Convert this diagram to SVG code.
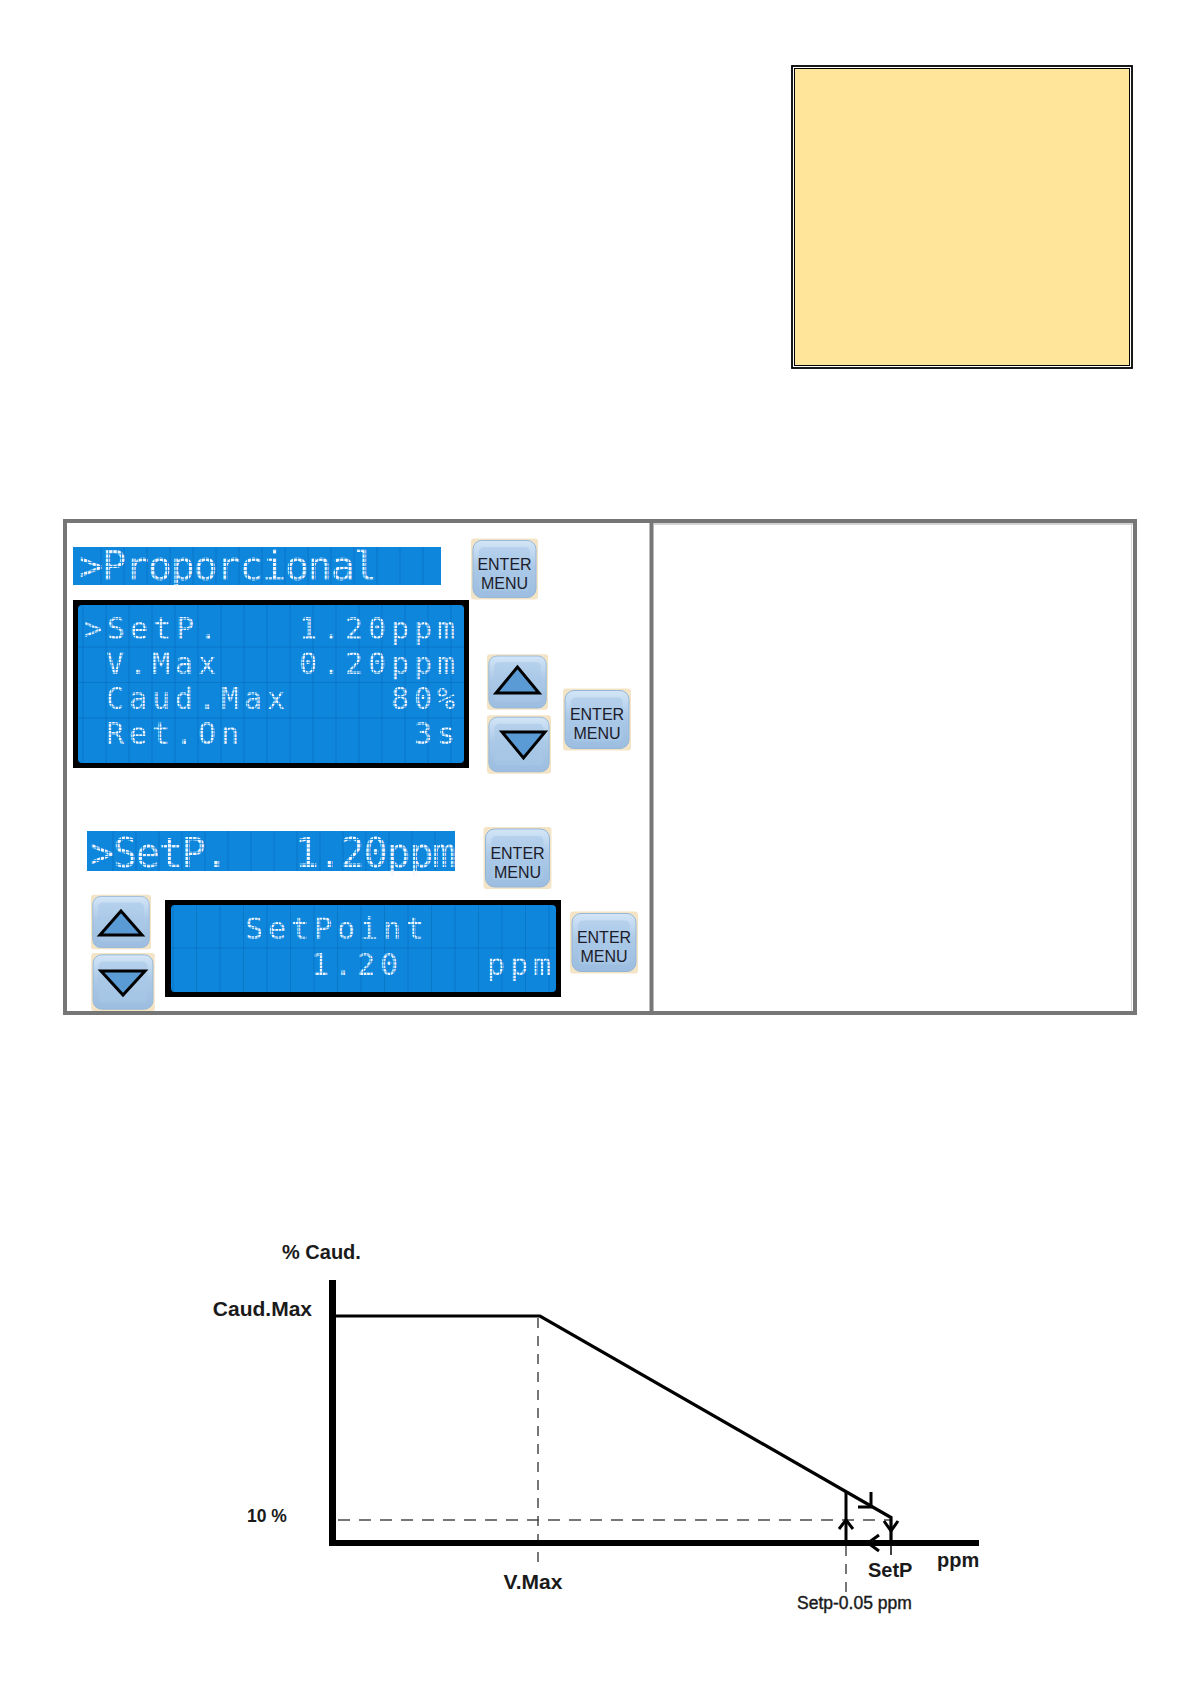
<svg xmlns="http://www.w3.org/2000/svg" xmlns:xlink="http://www.w3.org/1999/xlink" width="1191" height="1684" viewBox="0 0 1191 1684">
<style>
.lcd{fill:url(#dots);font-family:"DejaVu Sans Mono","Liberation Mono",monospace;font-size:40px;letter-spacing:-1.2px}
.lcds{fill:url(#dots2);font-family:"DejaVu Sans Mono","Liberation Mono",monospace;font-size:30px;letter-spacing:4.94px}
.lcdbg{fill:#0d86dc}
.grid{fill:none;stroke:#0a72c2;stroke-width:1;opacity:.75}
.btxt{font-family:"Liberation Sans",Arial,sans-serif;font-size:16px;fill:#1c1c2a;text-anchor:middle}
.tri{fill:#5b9bd5;stroke:#000;stroke-width:3;stroke-linejoin:miter}
.lbl{font-family:"Liberation Sans",Arial,sans-serif;font-weight:bold;fill:#1a1a1a}
.solid{fill:none;stroke:#000;stroke-linecap:butt}
.dash{fill:none;stroke:#4a4a4a;stroke-width:1.5}
.arr{fill:none;stroke:#000;stroke-width:3;stroke-linejoin:miter}
</style>
<defs>
<pattern id="dots" width="4.2" height="4.2" patternUnits="userSpaceOnUse">
<rect width="3.3" height="3.3" fill="#f2f7ff"/>
</pattern>
<pattern id="dots2" width="3.4" height="3.4" patternUnits="userSpaceOnUse">
<rect width="2.7" height="2.7" fill="#f2f7ff"/>
</pattern>
<linearGradient id="bg" x1="0" y1="0" x2="0" y2="1">
<stop offset="0" stop-color="#d4e6f7"/>
<stop offset="0.45" stop-color="#acc9e7"/>
<stop offset="1" stop-color="#9cbde0"/>
</linearGradient>
<symbol id="btn" viewBox="0 0 68 62">
<rect x="0" y="0" width="68" height="62" rx="3" fill="#f4e4c6"/>
<rect x="2" y="2" width="64" height="58" rx="9" fill="url(#bg)" stroke="#93b6d8" stroke-width="1"/>
<rect x="8" y="9" width="52" height="44" rx="5" fill="#a9c8e7" opacity=".6"/>
</symbol>
</defs>
<rect width="1191" height="1684" fill="#fff"/>

<g id="note-box">
<rect x="792" y="66" width="340" height="302" fill="none" stroke="#000" stroke-width="1.8"/>
<rect x="794.5" y="68.5" width="335" height="297" fill="#ffe599" stroke="#000" stroke-width="1"/>
</g>

<g id="table">
<rect x="65" y="521" width="1070" height="492" fill="none" stroke="#767676" stroke-width="4"/>
<line x1="651.5" y1="521" x2="651.5" y2="1013" stroke="#767676" stroke-width="4"/>
<line x1="654" y1="524" x2="1133" y2="524" stroke="#c4c4c4" stroke-width="1.5"/>
<line x1="1131.5" y1="524" x2="1131.5" y2="1011" stroke="#d6d6d6" stroke-width="1"/>
</g>

<g id="banner-proporcional">
<rect class="lcdbg" x="73" y="547" width="368" height="38"/>
<path class="grid" d="M101,547v38m23,-38v38m23,-38v38m23,-38v38m23,-38v38m23,-38v38m23,-38v38m23,-38v38m23,-38v38m23,-38v38m23,-38v38m23,-38v38m23,-38v38m23,-38v38m23,-38v38"/>
<text class="lcd" x="79" y="580">&gt;Proporcional</text>
</g>

<g id="btn-enter-1">
<use xlink:href="#btn" href="#btn" x="471" y="538" width="67" height="62"/>
<text class="btxt" x="504.5" y="570">ENTER</text>
<text class="btxt" x="504.5" y="589">MENU</text>
</g>

<g id="lcd-menu">
<rect x="73" y="600" width="396" height="168" fill="#000"/>
<rect class="lcdbg" x="78" y="605" width="386" height="158" rx="4"/>
<path class="grid" d="M83,605v158m23,-158v158m23,-158v158m23,-158v158m23,-158v158m23,-158v158m23,-158v158m23,-158v158m23,-158v158m23,-158v158m23,-158v158m23,-158v158m23,-158v158m23,-158v158m23,-158v158m23,-158v158m23,-158v158M78,647h386M78,682.5h386M78,718h386"/>
<text class="lcds" x="84" y="638.5">&gt;SetP.</text>
<text class="lcds" x="460" y="638.5" text-anchor="end">1.20ppm</text>
<text class="lcds" x="106" y="673.8">V.Max</text>
<text class="lcds" x="460" y="673.8" text-anchor="end">0.20ppm</text>
<text class="lcds" x="106" y="709.1">Caud.Max</text>
<text class="lcds" x="460" y="709.1" text-anchor="end">80%</text>
<text class="lcds" x="106" y="744.4">Ret.On</text>
<text class="lcds" x="460" y="744.4" text-anchor="end">3s</text>
</g>

<g id="btn-up-1">
<use xlink:href="#btn" href="#btn" x="487" y="652" width="61" height="60"/>
<polygon class="tri" points="517.5,667 496,693 539,693"/>
</g>
<g id="btn-down-1">
<use xlink:href="#btn" href="#btn" x="487" y="714" width="64" height="61"/>
<polygon class="tri" points="502,732 545,732 523.5,758"/>
</g>

<g id="btn-enter-2">
<use xlink:href="#btn" href="#btn" x="563" y="688" width="68" height="63"/>
<text class="btxt" x="597" y="720">ENTER</text>
<text class="btxt" x="597" y="739">MENU</text>
</g>

<g id="banner-setp">
<rect class="lcdbg" x="87" y="831" width="368" height="40"/>
<path class="grid" d="M113,831v40m23,-40v40m23,-40v40m23,-40v40m23,-40v40m23,-40v40m23,-40v40m23,-40v40m23,-40v40m23,-40v40m23,-40v40m23,-40v40m23,-40v40m23,-40v40m23,-40v40"/>
<text class="lcd" x="90" y="867">&gt;SetP.</text>
<text class="lcd" x="455" y="867" text-anchor="end">1.20ppm</text>
</g>

<g id="btn-enter-3">
<use xlink:href="#btn" href="#btn" x="483" y="827" width="69" height="62"/>
<text class="btxt" x="517.5" y="859">ENTER</text>
<text class="btxt" x="517.5" y="878">MENU</text>
</g>

<g id="btn-up-2">
<use xlink:href="#btn" href="#btn" x="91" y="893" width="60" height="58"/>
<polygon class="tri" points="121,911 100,935 142,935"/>
</g>
<g id="btn-down-2">
<use xlink:href="#btn" href="#btn" x="91" y="953" width="64" height="58"/>
<polygon class="tri" points="101,971 145,971 123,995"/>
</g>

<g id="lcd-setpoint">
<rect x="165" y="900" width="396" height="97" fill="#000"/>
<rect class="lcdbg" x="171" y="905" width="385" height="87" rx="4"/>
<path class="grid" d="M173,905v87m23.5,-87v87m23.5,-87v87m23.5,-87v87m23.5,-87v87m23.5,-87v87m23.5,-87v87m23.5,-87v87m23.5,-87v87m23.5,-87v87m23.5,-87v87m23.5,-87v87m23.5,-87v87m23.5,-87v87m23.5,-87v87m23.5,-87v87m23.5,-87v87M171,948h385"/>
<text class="lcds" x="245" y="939" letter-spacing="5.4">SetPoint</text>
<text class="lcds" x="311" y="974.5" letter-spacing="5.4">1.20</text>
<text class="lcds" x="556" y="974.5" text-anchor="end" letter-spacing="5.4">ppm</text>
</g>

<g id="btn-enter-4">
<use xlink:href="#btn" href="#btn" x="570" y="911" width="68" height="63"/>
<text class="btxt" x="604" y="943">ENTER</text>
<text class="btxt" x="604" y="962">MENU</text>
</g>

<g id="chart">
<g id="chart-labels">
<text class="lbl" x="282" y="1259" font-size="20">% Caud.</text>
<text class="lbl" x="312" y="1316" font-size="21" text-anchor="end">Caud.Max</text>
<text class="lbl" x="247" y="1522" font-size="17.5">10 %</text>
<text class="lbl" x="533" y="1589" font-size="21" text-anchor="middle">V.Max</text>
<text class="lbl" x="868" y="1577" font-size="20">SetP</text>
<text class="lbl" x="937" y="1567" font-size="20">ppm</text>
<text x="797" y="1609" font-family="'Liberation Sans',Arial,sans-serif" font-size="17.5" fill="#1a1a1a" stroke="#1a1a1a" stroke-width="0.4">Setp-0.05 ppm</text>
</g>
<g id="connectors">
<line class="dash" x1="338" y1="1520" x2="891" y2="1520" stroke-dasharray="12 9"/>
<line class="dash" x1="538" y1="1318" x2="538" y2="1568" stroke-dasharray="10 8"/>
<line class="dash" x1="846" y1="1546" x2="846" y2="1595" stroke-dasharray="10 8"/>
<line class="solid" x1="332.5" y1="1280" x2="332.5" y2="1546" stroke-width="7"/>
<line class="solid" x1="329" y1="1543" x2="979" y2="1543" stroke-width="6"/>
<polyline class="solid" points="336,1316 540,1316 891,1517.5 891,1543" stroke-width="3.2" stroke-linejoin="miter"/>
<line class="solid" x1="891" y1="1543" x2="891" y2="1555" stroke-width="1.5"/>
<line class="solid" x1="846" y1="1491" x2="846" y2="1543" stroke-width="3"/>
<path class="arr" d="M839,1529 L846,1520 L853,1529"/>
<path class="arr" d="M871,1492 V1507 H858"/>
<path class="arr" d="M884,1521 L891,1531 L898,1521"/>
<path class="arr" d="M879,1535 L868,1543 L879,1551" stroke-width="4"/>
</g>
</g>
</svg>
